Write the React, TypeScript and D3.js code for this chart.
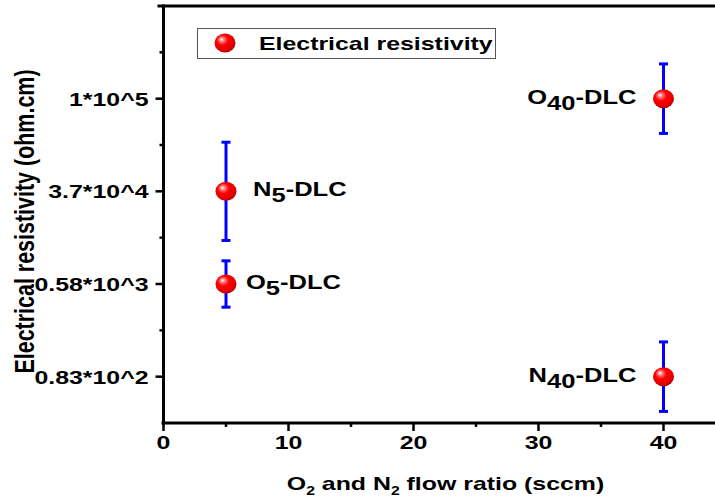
import React, { useEffect, useRef } from 'react';
import * as d3 from 'd3';

// samples: base letter + subscript, flow ratio, level on the ordinal y scale, error half-width
const sampleBase = ['N', 'O', 'O', 'N'];
const sampleSub = ['5', '5', '40', '40'];
const flowRatio = [5, 5, 40, 40];
const resistLevel = [3, 2, 4, 1];
const resistErr = [0.53, 0.25, 0.375, 0.375];

const yTickValues = [1, 2, 3, 4];
const yTickLabels = ['0.83*10^2', '0.58*10^3', '3.7*10^4', '1*10^5'];
const xTickValues = [0, 10, 20, 30, 40];

const W = 715;
const H = 497;
const FONT = '"Liberation Sans", Arial, sans-serif';
const SX = 1.31;

export default function App() {
  const svgRef = useRef<SVGSVGElement>(null);

  useEffect(() => {
    const svg = d3.select(svgRef.current);
    svg.selectAll('*').remove();

    const xScale = d3.scaleLinear().domain([0, 44]).range([163.5, 713.5]);
    const yScale = d3.scaleLinear().domain([0.5, 5]).range([423, 6]);

    const defs = svg.append('defs');
    const grad = defs
      .append('radialGradient')
      .attr('id', 'ball')
      .attr('cx', '45%')
      .attr('cy', '40%')
      .attr('r', '60%')
      .attr('fx', '32%')
      .attr('fy', '30%');
    grad.append('stop').attr('offset', '0%').attr('stop-color', '#ffffff');
    grad.append('stop').attr('offset', '18%').attr('stop-color', '#ff8080');
    grad.append('stop').attr('offset', '45%').attr('stop-color', '#ff0000');
    grad.append('stop').attr('offset', '85%').attr('stop-color', '#e00000');
    grad.append('stop').attr('offset', '100%').attr('stop-color', '#b00000');

    // stretched bold text helper
    const stretchedText = (
      g: d3.Selection<any, any, any, any>,
      x: number,
      y: number,
      anchor: string,
      size: number
    ) =>
      g
        .append('g')
        .attr('transform', `translate(${x},${y}) scale(${SX},1)`)
        .append('text')
        .attr('text-anchor', anchor)
        .attr('font-family', FONT)
        .attr('font-weight', 'bold')
        .attr('font-size', size)
        .attr('fill', '#000');

    const [x0, x1] = xScale.range();
    const [yb, yt] = yScale.range();

    // frame
    svg.append('line').attr('x1', x0).attr('x2', x0).attr('y1', yt - 1.5).attr('y2', yb + 1.5)
      .attr('stroke', '#000').attr('stroke-width', 3);
    svg.append('line').attr('x1', x0 - 6).attr('x2', W).attr('y1', yt).attr('y2', yt)
      .attr('stroke', '#000').attr('stroke-width', 3);
    svg.append('line').attr('x1', x0 - 2).attr('x2', W).attr('y1', yb).attr('y2', yb)
      .attr('stroke', '#000').attr('stroke-width', 3);

    // x ticks
    const xMinor = d3.range(5, 45, 10);
    svg.selectAll('.xmaj').data(xTickValues).join('line')
      .attr('x1', d => xScale(d)).attr('x2', d => xScale(d))
      .attr('y1', yb).attr('y2', yb + 8)
      .attr('stroke', '#000').attr('stroke-width', 2.5);
    svg.selectAll('.xmin').data(xMinor).join('line')
      .attr('x1', d => xScale(d)).attr('x2', d => xScale(d))
      .attr('y1', yb).attr('y2', yb + 4)
      .attr('stroke', '#000').attr('stroke-width', 2.5);
    xTickValues.forEach(v => {
      stretchedText(svg, xScale(v), 449, 'middle', 19).text(String(v));
    });

    // y ticks
    const yMinor = d3.range(1.5, 5, 1);
    svg.selectAll('.ymaj').data(yTickValues).join('line')
      .attr('x1', x0).attr('x2', x0 - 8)
      .attr('y1', d => yScale(d)).attr('y2', d => yScale(d))
      .attr('stroke', '#000').attr('stroke-width', 2.5);
    svg.selectAll('.ymin').data(yMinor).join('line')
      .attr('x1', x0).attr('x2', x0 - 4)
      .attr('y1', d => yScale(d)).attr('y2', d => yScale(d))
      .attr('stroke', '#000').attr('stroke-width', 2.5);
    yTickValues.forEach((v, i) => {
      stretchedText(svg, x0 - 15, yScale(v) + 7, 'end', 19).text(yTickLabels[i]);
    });

    // axis titles
    const xt = stretchedText(svg, (x0 + x1) / 2 + 7, 490, 'middle', 19);
    xt.append('tspan').text('O');
    xt.append('tspan').attr('font-size', 12).attr('dy', 5).text('2');
    xt.append('tspan').attr('dy', -5).text(' and N');
    xt.append('tspan').attr('font-size', 12).attr('dy', 5).text('2');
    xt.append('tspan').attr('dy', -5).text(' flow ratio (sccm)');

    svg.append('g')
      .attr('transform', `translate(34,${(yb + yt) / 2 + 7}) scale(1.45,1.13) rotate(-90)`)
      .append('text')
      .attr('text-anchor', 'middle')
      .attr('font-family', FONT)
      .attr('font-weight', 'bold')
      .attr('font-size', 19)
      .text('Electrical resistivity (ohm.cm)');

    // error bars
    const eb = svg.append('g').attr('stroke', '#0000ff').attr('stroke-width', 3);
    flowRatio.forEach((fx, i) => {
      const cx = xScale(fx);
      const top = yScale(resistLevel[i] + resistErr[i]);
      const bot = yScale(resistLevel[i] - resistErr[i]);
      eb.append('line').attr('x1', cx).attr('x2', cx).attr('y1', top).attr('y2', bot);
      eb.append('line').attr('x1', cx - 4.5).attr('x2', cx + 4.5).attr('y1', top).attr('y2', top);
      eb.append('line').attr('x1', cx - 4.5).attr('x2', cx + 4.5).attr('y1', bot).attr('y2', bot);
    });

    // markers
    svg.selectAll('.ball').data(flowRatio).join('ellipse')
      .attr('cx', d => xScale(d))
      .attr('cy', (d, i) => yScale(resistLevel[i]))
      .attr('rx', 10.5)
      .attr('ry', 9.5)
      .attr('fill', 'url(#ball)');

    // point labels
    const midX = (x0 + x1) / 2;
    flowRatio.forEach((fx, i) => {
      const cx = xScale(fx);
      const cy = yScale(resistLevel[i]);
      const right = cx < midX;
      const t = stretchedText(svg, right ? cx + (i === 0 ? 27 : 20) : cx - 27, cy + 5, right ? 'start' : 'end', 19.5);
      t.append('tspan').text(sampleBase[i]);
      t.append('tspan').attr('dy', 6).text(sampleSub[i]);
      t.append('tspan').attr('dy', -6).text('-DLC');
    });

    // legend
    const lg = svg.append('g');
    lg.append('rect').attr('x', 197.5).attr('y', 28.5).attr('width', 298).attr('height', 30)
      .attr('fill', '#fff').attr('stroke', '#555').attr('stroke-width', 1);
    lg.append('ellipse').attr('cx', 225).attr('cy', 43).attr('rx', 10.5).attr('ry', 9.5)
      .attr('fill', 'url(#ball)');
    stretchedText(lg, 259, 50, 'start', 19).text('Electrical resistivity');
  }, []);

  return (
    <svg
      ref={svgRef}
      width={W}
      height={H}
      style={{ position: 'absolute', left: 0, top: 0, background: '#fff' }}
    />
  );
}
